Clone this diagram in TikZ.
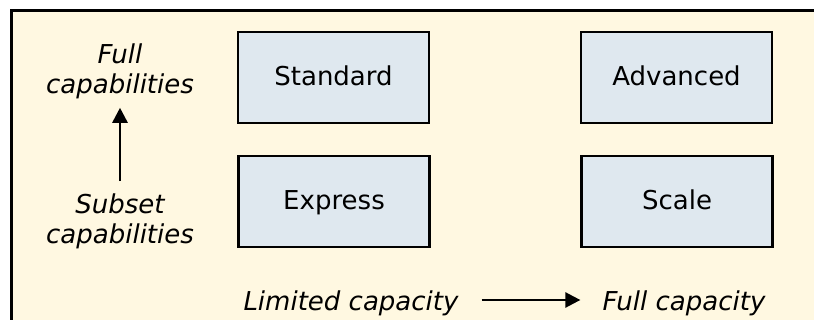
\documentclass[tikz,border=0pt]{standalone}
\usepackage{fontspec}
\setmainfont{DejaVu Sans}
\usetikzlibrary{arrows.meta}
\definecolor{panelbg}{RGB}{255,248,225}
\definecolor{tierfill}{RGB}{223,232,239}
\tikzset{
  tier/.style={draw=black, line width=2.5pt, fill=tierfill,
    minimum width=191pt, minimum height=91pt, inner sep=0pt,
    text height=19pt, text depth=3pt,
    font=\fontsize{26}{30}\selectfont},
  axislabel/.style={align=center, inner sep=0pt,
    font=\fontsize{26}{30}\selectfont\itshape},
  axisarrow/.style={line width=2.6pt, -{Triangle[length=15pt,width=15pt]}}
}
\begin{document}
\begin{tikzpicture}[x=1pt, y=-1pt]
  \useasboundingbox (0,0) rectangle (814,320);
  % panel background, its right and bottom edges run off the page
  \begin{scope}
    \clip (0,0) rectangle (814,320);
    \draw[line width=3pt, fill=panelbg] (11,11) rectangle (840,340);
  \end{scope}

  % service tiers
  \node[tier] (standard) at (333.5,77.5) {Standard};
  \node[tier] (advanced) at (676.5,77.5) {Advanced};
  \node[tier] (express)  at (334,201.5) {Express};
  \node[tier] (scale)    at (677,201.5) {Scale};

  % capability axis
  \node[axislabel] (fullcap) at (120,71)  {Full\\capabilities};
  \node[axislabel] (subcap)  at (120,221) {Subset\\capabilities};
  \draw[axisarrow, shorten <=12pt, shorten >=9pt] (subcap.north) -- (fullcap.south);

  % capacity axis
  \node[axislabel] (limcap)  at (351,303.5) {Limited capacity};
  \node[axislabel] (fullcty) at (684,303.5) {Full capacity};
  \draw[axisarrow, shorten <=23pt, shorten >=22pt]
    ([yshift=3.5pt]limcap.east) -- ([yshift=3.5pt]fullcty.west);
\end{tikzpicture}
\end{document}
